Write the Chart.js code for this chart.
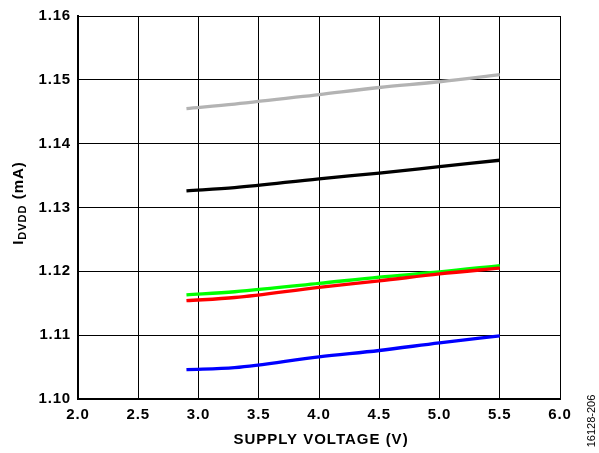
<!DOCTYPE html>
<html>
<head>
<meta charset="utf-8">
<script src="https://cdn.jsdelivr.net/npm/chart.js@4/dist/chart.umd.min.js"></script>
<style>
html,body{margin:0;padding:0;background:#fff;}
#wrap{width:599px;height:453px;}
</style>
</head>
<body>
<div id="wrap"><canvas id="c" width="599" height="453"></canvas></div>
<script>
const voltages = [2.9, 3.3, 4.0, 4.5, 5.0, 5.5];
const greySeries  = [1.1455, 1.1462, 1.1477, 1.1488, 1.1497, 1.1508];
const blackSeries = [1.1326, 1.1331, 1.1345, 1.1354, 1.1364, 1.1374];
const greenSeries = [1.1163, 1.1168, 1.1181, 1.1191, 1.1199, 1.1209];
const redSeries   = [1.1154, 1.1159, 1.1175, 1.1185, 1.1196, 1.1205];
const blueSeries  = [1.1046, 1.1049, 1.1066, 1.1076, 1.1088, 1.1099];
const xTicks = [2.0, 2.5, 3.0, 3.5, 4.0, 4.5, 5.0, 5.5, 6.0];
const yTicks = [1.10, 1.11, 1.12, 1.13, 1.14, 1.15, 1.16];

const FONT = "'Liberation Sans', Arial, sans-serif";

function toXY(vals){ return voltages.map((v,i)=>({x:v, y:vals[i]})); }
function ds(vals, color){
  return {data: toXY(vals), borderColor: color, backgroundColor: color, borderWidth: 3.3,
          pointRadius: 0, fill: false, cubicInterpolationMode: 'monotone'};
}

const spacingPlugin = {
  id: 'spacing',
  beforeDraw(chart){ chart.ctx.letterSpacing = '0.8px'; }
};

const titlePlugin = {
  id: 'titles',
  afterDraw(chart){
    const ctx = chart.ctx;
    ctx.save();
    ctx.fillStyle = '#000';
    ctx.letterSpacing = '1px';
    // x title
    ctx.font = "bold 15px " + FONT;
    ctx.textAlign = 'center';
    ctx.textBaseline = 'middle';
    ctx.fillText('SUPPLY VOLTAGE (V)', 321, 440);
    // y title with subscript
    ctx.translate(17, 203);
    ctx.rotate(-Math.PI/2);
    const big = "bold 15px " + FONT, small = "bold 11px " + FONT;
    ctx.font = big; const wI = ctx.measureText('I').width;
    ctx.font = small; const wS = ctx.measureText('DVDD').width;
    ctx.font = big; const wT = ctx.measureText(' (mA)').width;
    let x = -(wI + wS + wT)/2;
    ctx.textAlign = 'left';
    ctx.textBaseline = 'alphabetic';
    ctx.font = big; ctx.fillText('I', x, 5.5); x += wI;
    ctx.font = small; ctx.fillText('DVDD', x, 8.5); x += wS;
    ctx.font = big; ctx.fillText(' (mA)', x, 5.5);
    ctx.restore();
    // figure code
    ctx.save();
    ctx.fillStyle = '#000';
    ctx.letterSpacing = '0px';
    ctx.font = "11px " + FONT;
    ctx.translate(592, 421);
    ctx.rotate(-Math.PI/2);
    ctx.textAlign = 'center';
    ctx.textBaseline = 'middle';
    ctx.fillText('16128-206', 0, 0);
    ctx.restore();
  }
};

new Chart(document.getElementById('c'), {
  type: 'line',
  data: {
    datasets: [
      ds(greySeries, '#b3b3b3'),
      ds(blackSeries, '#000000'),
      ds(redSeries, '#ff0000'),
      ds(greenSeries, '#00ff00'),
      ds(blueSeries, '#0000ff')
    ]
  },
  options: {
    responsive: false,
    animation: false,
    layout: {padding: {left: 0, top: 14, right: 39, bottom: 0}},
    plugins: {legend: {display: false}, tooltip: {enabled: false}},
    scales: {
      x: {
        type: 'linear', min: 2.0, max: 6.0,
        afterBuildTicks: (s) => { s.ticks = xTicks.map(v => ({value: v})); },
        afterFit: (s) => { s.height = 54; },
        grid: {color: '#000', lineWidth: 1, drawTicks: false},
        border: {color: '#000', width: 2},
        ticks: {color: '#000', font: {family: FONT, size: 15, weight: 'bold'}, padding: 7,
                maxRotation: 0, callback: (v) => Number(v).toFixed(1)}
      },
      y: {
        type: 'linear', min: 1.10, max: 1.16,
        afterBuildTicks: (s) => { s.ticks = yTicks.map(v => ({value: v})); },
        afterFit: (s) => { s.width = 78; },
        grid: {color: '#000', lineWidth: 1, drawTicks: false},
        border: {color: '#000', width: 2},
        ticks: {color: '#000', font: {family: FONT, size: 15, weight: 'bold'}, padding: 7,
                callback: (v) => Number(v).toFixed(2)}
      }
    }
  },
  plugins: [spacingPlugin, titlePlugin]
});
</script>
</body>
</html>
